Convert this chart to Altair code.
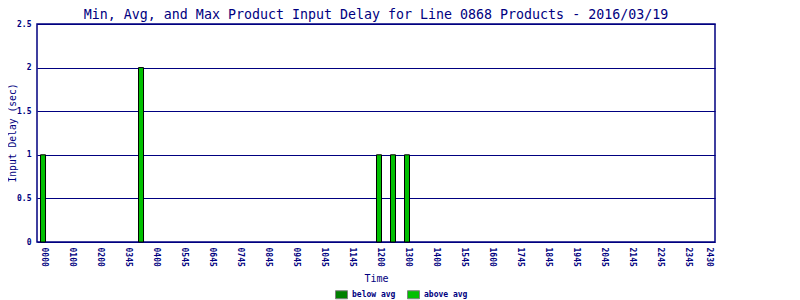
import altair as alt
import pandas as pd

# x slots are 15-minute intervals; tick labels at selected slots
tick_slots = [0, 4, 8, 12, 16, 20, 24, 28, 32, 36, 40, 44, 48, 52, 56, 60, 64, 68, 72, 76, 80, 84, 88, 92, 95]
tick_labels = ["0000", "0100", "0200", "0345", "0400", "0545", "0645", "0745", "0845", "0945",
               "1045", "1145", "1200", "1300", "1400", "1545", "1600", "1745", "1845", "1945",
               "2045", "2145", "2245", "2345", "2430"]

bar_slots = [0, 14, 48, 50, 52]
bar_values = [1, 2, 1, 1, 1]
bar_class = ["above avg"] * 5

legend_domain = ["below avg", "above avg"]
legend_colors = ["#008000", "#00C000"]

NAVY = "#000080"
FONT = "DejaVu Sans Mono"

df = pd.DataFrame({"slot": bar_slots, "delay": bar_values, "cls": bar_class})

slots_js = "[" + ",".join(str(s) for s in tick_slots) + "]"
labels_js = "[" + ",".join("'" + l + "'" for l in tick_labels) + "]"
label_expr = f"{labels_js}[indexof({slots_js}, datum.value)]"

chart = alt.Chart(df).mark_bar(size=5, stroke="black", strokeWidth=1).encode(
    x=alt.X("slot:Q",
            scale=alt.Scale(domain=[-0.86, 96], nice=False, zero=False, padding=0),
            axis=alt.Axis(values=tick_slots, labelExpr=label_expr, labelAngle=90,
                          labelAlign="left", labelBaseline="middle", labelPadding=5,
                          ticks=False, grid=False, domain=False,
                          labelFont=FONT, labelFontSize=8, labelFontWeight="bold",
                          labelColor=NAVY,
                          labelOverlap=False, labelBound=False, labelFlush=False,
                          title="Time", titleFont=FONT, titleFontSize=10,
                          titleFontWeight="normal", titleColor=NAVY,
                          titleY=36, titleBaseline="middle")),
    y=alt.Y("delay:Q",
            scale=alt.Scale(domain=[0, 2.5], nice=False),
            axis=alt.Axis(values=[0, 0.5, 1, 1.5, 2, 2.5], format=".1~f",
                          ticks=False, domain=False, grid=True,
                          gridColor=NAVY, gridWidth=1, gridOpacity=1,
                          labelFont=FONT, labelFontSize=8, labelFontWeight="bold",
                          labelColor=NAVY, labelPadding=6,
                          title="Input Delay (sec)", titleFont=FONT, titleFontSize=9.7,
                          titleFontWeight="normal", titleColor=NAVY,
                          titleX=-25, titleY=108.5, titleBaseline="middle",
                          titleAngle=-90)),
    color=alt.Color("cls:N",
                    scale=alt.Scale(domain=legend_domain, range=legend_colors),
                    legend=alt.Legend(orient="none", legendX=298, legendY=264,
                                      direction="horizontal", title=None,
                                      symbolType="M-1,-0.667H1V0.667H-1Z",
                                      symbolSize=144, symbolStrokeColor="#808080",
                                      symbolStrokeWidth=1, symbolOpacity=1,
                                      labelFont=FONT, labelFontSize=8,
                                      labelFontWeight="bold",
                                      labelColor=NAVY, labelOffset=4,
                                      columnPadding=9, padding=0)),
).properties(
    width=678,
    height=218,
    background="white",
    title=alt.TitleParams(
        "Min, Avg, and Max Product Input Delay for Line 0868 Products - 2016/03/19",
        font=FONT, fontSize=13.3, fontWeight="normal", color=NAVY,
        anchor="middle", offset=2, dy=3.5),
    autosize=alt.AutoSizeParams(type="none"),
    padding={"left": 29, "top": 16, "right": 77, "bottom": 70},
).configure_view(
    stroke=NAVY, strokeWidth=1.5
)

chart.save("out.html", embed_options={"renderer": "svg", "actions": False})
